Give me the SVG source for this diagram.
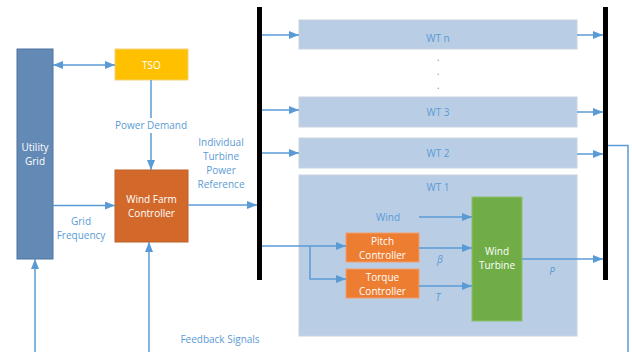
<svg xmlns="http://www.w3.org/2000/svg" width="632" height="352" viewBox="0 0 632 352">
<style>
text{font-family:"Open Sans","Noto Sans",sans-serif;font-size:10px;text-anchor:middle}
.lbl{fill:#5B9BD5}
.wht{fill:#FFFFFF}
.wt{fill:#B9CDE5;stroke:#C9D3DE;stroke-width:1}
.ln{fill:none;stroke:#5B9BD5;stroke-width:1.5}
.bus{fill:#000000}
</style>
<defs>
<marker id="ah" viewBox="0 0 10 8" refX="10" refY="4" markerWidth="10" markerHeight="8" markerUnits="userSpaceOnUse" orient="auto-start-reverse">
<path d="M0,0 L10,4 L0,8 Z" fill="#5B9BD5"/>
</marker>
</defs>
<rect width="632" height="352" fill="#FFFFFF"/>

<g id="bus-left"><rect class="bus" x="257" y="7" width="5" height="273"/></g>
<g id="bus-right"><rect class="bus" x="603" y="7" width="5" height="273"/></g>

<g id="utility-grid">
<rect x="17" y="49" width="36" height="210" fill="#6389B5" stroke="#4E73A0" stroke-width="1"/>
<text class="wht" x="35" y="151">Utility</text>
<text class="wht" x="35" y="165">Grid</text>
</g>
<g id="tso">
<rect x="115" y="49" width="73" height="31" fill="#FFC000" stroke="#F2D27A" stroke-width="1"/>
<text class="wht" x="151.5" y="69">TSO</text>
</g>
<g id="wfc">
<rect x="115" y="170" width="73" height="72" fill="#D2692A" stroke="#C06028" stroke-width="1"/>
<text class="wht" x="151.5" y="203">Wind Farm</text>
<text class="wht" x="151.5" y="217">Controller</text>
</g>

<g id="wt-n">
<rect class="wt" x="299" y="20" width="278" height="29"/>
<text class="lbl" x="438" y="42">WT n</text>
</g>
<g id="dots">
<text class="lbl" x="438" y="61">.</text>
<text class="lbl" x="438" y="75">.</text>
<text class="lbl" x="438" y="89">.</text>
</g>
<g id="wt-3">
<rect class="wt" x="299" y="97" width="278" height="30"/>
<text class="lbl" x="438" y="116">WT 3</text>
</g>
<g id="wt-2">
<rect class="wt" x="299" y="138" width="278" height="30"/>
<text class="lbl" x="438" y="157">WT 2</text>
</g>
<g id="wt-1">
<rect class="wt" x="299" y="175" width="278" height="161"/>
<text class="lbl" x="438" y="191">WT 1</text>
<text class="lbl" x="388" y="221">Wind</text>
</g>
<g id="pitch">
<rect x="346" y="233" width="73" height="29" fill="#ED7D31" stroke="#F0A070" stroke-width="1"/>
<text class="wht" x="382.5" y="245">Pitch</text>
<text class="wht" x="382.5" y="259">Controller</text>
</g>
<g id="torque">
<rect x="346" y="269" width="73" height="29" fill="#ED7D31" stroke="#F0A070" stroke-width="1"/>
<text class="wht" x="382.5" y="281">Torque</text>
<text class="wht" x="382.5" y="295">Controller</text>
</g>
<g id="wind-turbine">
<rect x="472" y="197" width="50" height="124" fill="#70AD47" stroke="#8CC06A" stroke-width="1"/>
<text class="wht" x="497" y="255">Wind</text>
<text class="wht" x="497" y="269">Turbine</text>
</g>

<g id="connectors">
<line class="ln" x1="53" y1="65" x2="115" y2="65" marker-start="url(#ah)" marker-end="url(#ah)"/>
<line class="ln" x1="151" y1="80" x2="151" y2="118"/>
<line class="ln" x1="151" y1="133" x2="151" y2="170" marker-end="url(#ah)"/>
<line class="ln" x1="53" y1="205.5" x2="115" y2="205.5" marker-end="url(#ah)"/>
<line class="ln" x1="188" y1="205" x2="257" y2="205" marker-end="url(#ah)"/>
<line class="ln" x1="262" y1="35" x2="299" y2="35" marker-end="url(#ah)"/>
<line class="ln" x1="262" y1="110" x2="299" y2="110" marker-end="url(#ah)"/>
<line class="ln" x1="262" y1="153" x2="299" y2="153" marker-end="url(#ah)"/>
<line class="ln" x1="577" y1="35" x2="603" y2="35" marker-end="url(#ah)"/>
<line class="ln" x1="577" y1="112" x2="603" y2="112" marker-end="url(#ah)"/>
<line class="ln" x1="577" y1="154" x2="603" y2="154" marker-end="url(#ah)"/>
<polyline class="ln" points="608,145.5 628,145.5 628,352"/>
<line class="ln" x1="262" y1="246" x2="346" y2="246" marker-end="url(#ah)"/>
<polyline class="ln" points="310,246 310,279 346,279" marker-end="url(#ah)"/>
<line class="ln" x1="419" y1="217" x2="472" y2="217" marker-end="url(#ah)"/>
<line class="ln" x1="419" y1="248" x2="472" y2="248" marker-end="url(#ah)"/>
<line class="ln" x1="419" y1="286" x2="472" y2="286" marker-end="url(#ah)"/>
<line class="ln" x1="522" y1="259" x2="603" y2="259" marker-end="url(#ah)"/>
<line class="ln" x1="35" y1="352" x2="35" y2="259" marker-end="url(#ah)"/>
<line class="ln" x1="149" y1="352" x2="149" y2="242" marker-end="url(#ah)"/>
</g>

<g id="labels">
<text class="lbl" x="151" y="129">Power Demand</text>
<text class="lbl" x="221" y="146">Individual</text>
<text class="lbl" x="221" y="160">Turbine</text>
<text class="lbl" x="221" y="174">Power</text>
<text class="lbl" x="221" y="188">Reference</text>
<text class="lbl" x="81" y="225">Grid</text>
<text class="lbl" x="81" y="239">Frequency</text>
<text class="lbl" x="220" y="343">Feedback Signals</text>
<text class="lbl" x="440" y="263" font-style="italic">β</text>
<text class="lbl" x="438" y="301" font-style="italic">T</text>
<text class="lbl" x="552" y="275" font-style="italic">P</text>
</g>
</svg>
